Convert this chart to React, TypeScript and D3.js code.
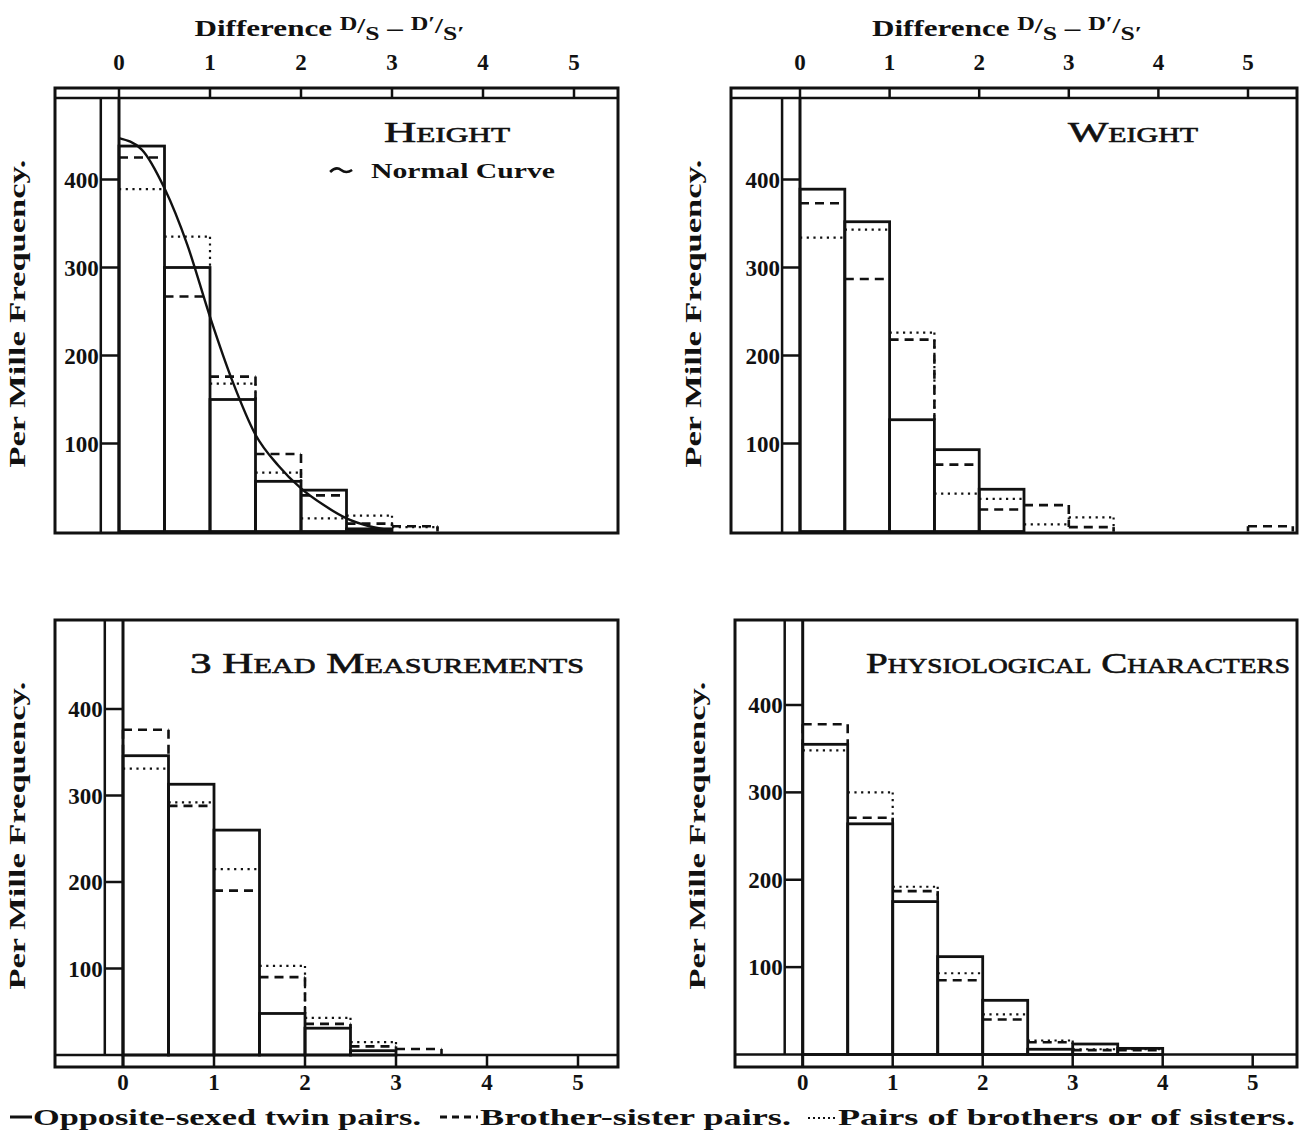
import React from 'react';
import * as d3 from 'd3';

// bins are 0.5 wide, starting at a difference of 0
const binWidth = 0.5;
const xTicks = [0, 1, 2, 3, 4, 5];
const yTicks = [100, 200, 300, 400];

// per mille frequencies
const heightTwins = [438, 300, 150, 57, 47, 3, 0];
const heightBroSis = [425, 267, 176, 88, 41, 9, 6];
const heightSameSex = [389, 335, 168, 67, 15, 18, 5];

const weightTwins = [389, 352, 127, 93, 48, 0, 0, 0, 0, 0, 0];
const weightBroSis = [373, 287, 218, 76, 25, 30, 5, 0, 0, 0, 6];
const weightSameSex = [334, 343, 226, 43, 37, 8, 16, 0, 0, 0, 0];

const headTwins = [346, 313, 260, 48, 31, 5, 0];
const headBroSis = [376, 288, 190, 90, 36, 10, 7];
const headSameSex = [331, 292, 215, 103, 43, 15, 0];

const physTwins = [355, 264, 175, 112, 62, 6, 12, 7];
const physBroSis = [378, 271, 187, 85, 40, 14, 5, 5];
const physSameSex = [348, 300, 192, 93, 46, 16, 6, 6];

// normal curve drawn over the height histogram
const normalX = [0, 0.25, 0.5, 0.75, 1, 1.25, 1.5, 1.75, 2, 2.25, 2.5, 2.75, 3];
const normalY = [447, 434, 390, 326, 244, 170, 110, 75, 49, 30, 15, 6, 1];

const FONT = '"Liberation Serif", "DejaVu Serif", serif';
const INK = '#111';

const panels = [
  {
    key: 'height', title: 'Height', titleX: 447, titleY: 142, titleW: 126,
    twins: heightTwins, broSis: heightBroSis, sameSex: heightSameSex,
    x0: 119, unit: 91, left: 55, right: 618, top: 88, bottom: 533,
    y0: 531.5, y400: 179.5, axis: 'top', normal: true,
  },
  {
    key: 'weight', title: 'Weight', titleX: 1133, titleY: 142, titleW: 130,
    twins: weightTwins, broSis: weightBroSis, sameSex: weightSameSex,
    x0: 800, unit: 89.6, left: 731, right: 1297, top: 88, bottom: 533,
    y0: 531.5, y400: 179.5, axis: 'top', normal: false,
  },
  {
    key: 'head', title: '3 Head Measurements', titleX: 387, titleY: 673, titleW: 394,
    twins: headTwins, broSis: headBroSis, sameSex: headSameSex,
    x0: 123, unit: 91, left: 55, right: 618, top: 620, bottom: 1067,
    y0: 1055, y400: 709, axis: 'bottom', normal: false,
  },
  {
    key: 'phys', title: 'Physiological Characters', titleX: 1078, titleY: 673, titleW: 424,
    twins: physTwins, broSis: physBroSis, sameSex: physSameSex,
    x0: 802.7, unit: 90, left: 735, right: 1297, top: 620, bottom: 1067,
    y0: 1054.5, y400: 705, axis: 'bottom', normal: false,
  },
];

type Panel = typeof panels[number];

// outline of a comparison series: tops of each bin, plus the edges
// that stand clear of the solid bars
function stepSegments(values: number[], solid: number[]) {
  const segs: { x1: number; y1: number; x2: number; y2: number }[] = [];
  values.forEach((v, i) => {
    if (!v) return;
    const a = i * binWidth;
    const b = (i + 1) * binWidth;
    segs.push({ x1: a, y1: v, x2: b, y2: v });
    const coverL = Math.max(solid[i - 1] || 0, solid[i] || 0);
    const coverR = Math.max(solid[i] || 0, solid[i + 1] || 0);
    const prev = values[i - 1] || 0;
    const next = values[i + 1] || 0;
    if (v > coverL && v > prev) segs.push({ x1: a, y1: v, x2: a, y2: Math.max(coverL, prev) });
    if (v > coverR && v > next) segs.push({ x1: b, y1: v, x2: b, y2: Math.max(coverR, next) });
  });
  return segs;
}

function PanelView({ p }: { p: Panel }) {
  const x = d3.scaleLinear().domain([0, 5]).range([p.x0, p.x0 + 5 * p.unit]);
  const y = d3.scaleLinear().domain([0, 400]).range([p.y0, p.y400]);
  const isTop = p.axis === 'top';
  const stripTop = isTop ? p.top : p.y0;
  const stripBottom = isTop ? p.top + 10 : p.bottom;
  const innerTop = isTop ? stripBottom : p.top;
  const innerBottom = isTop ? p.bottom : p.y0;
  const xa = x(-0.2);
  const xz = x(0);

  const dashed = stepSegments(p.broSis, p.twins);
  const dotted = stepSegments(p.sameSex, p.twins);

  const curve = d3.line<number>()
    .x((d) => x(d))
    .y((_, i) => y(normalY[i]))
    .curve(d3.curveMonotoneX);

  const cx = (p.left + p.right) / 2;
  const yLabelX = p.left - 30;
  const yLabelY = (p.top + p.bottom) / 2 + (isTop ? 3 : -8);

  return (
    <g>
      {/* frame */}
      <rect x={p.left} y={p.top} width={p.right - p.left} height={p.bottom - p.top}
        fill="none" stroke={INK} strokeWidth={3} />
      {/* x axis strip */}
      <line x1={p.left} x2={p.right} y1={isTop ? stripBottom : stripTop} y2={isTop ? stripBottom : stripTop}
        stroke={INK} strokeWidth={2.5} />
      {xTicks.map((t) => (
        <line key={'xt' + t} x1={x(t)} x2={x(t)} y1={stripTop} y2={stripBottom} stroke={INK} strokeWidth={2.5} />
      ))}
      {xTicks.map((t) => (
        <text key={'xl' + t} x={x(t)} y={isTop ? p.top - 18 : p.bottom + 23}
          textAnchor="middle" fontFamily={FONT} fontWeight="bold" fontSize={23} fill={INK}>{t}</text>
      ))}
      {/* y axis strip between the two verticals */}
      <line x1={xa} x2={xa} y1={innerTop} y2={innerBottom} stroke={INK} strokeWidth={2.5} />
      <line x1={xz} x2={xz} y1={innerTop} y2={isTop ? innerBottom : p.bottom} stroke={INK} strokeWidth={3} />
      {yTicks.map((t) => (
        <line key={'yt' + t} x1={xa} x2={xz} y1={y(t)} y2={y(t)} stroke={INK} strokeWidth={2.5} />
      ))}
      {yTicks.map((t) => (
        <text key={'yl' + t} x={xa - 2} y={y(t) + 8} textAnchor="end"
          fontFamily={FONT} fontWeight="bold" fontSize={23} fill={INK}>{t}</text>
      ))}
      <text transform={`translate(${yLabelX},${yLabelY}) rotate(-90)`} textAnchor="middle"
        fontFamily={FONT} fontWeight="bold" fontSize={24} fill={INK} textLength={308} lengthAdjust="spacingAndGlyphs">
        Per Mille Frequency.
      </text>

      {/* opposite-sexed twins: solid bars */}
      {p.twins.map((v, i) => v > 0 && (
        <rect key={'s' + i} x={x(i * binWidth)} y={y(v)} width={x((i + 1) * binWidth) - x(i * binWidth)}
          height={y(0) - y(v)} fill="none" stroke={INK} strokeWidth={2.8} />
      ))}
      {dashed.map((s, i) => (
        <line key={'d' + i} x1={x(s.x1)} x2={x(s.x2)} y1={y(s.y1)} y2={y(s.y2)}
          stroke={INK} strokeWidth={2.6} strokeDasharray="9,6" />
      ))}
      {dotted.map((s, i) => (
        <line key={'o' + i} x1={x(s.x1)} x2={x(s.x2)} y1={y(s.y1)} y2={y(s.y2)}
          stroke={INK} strokeWidth={2.2} strokeDasharray="2.2,4.5" />
      ))}
      {p.normal && (
        <path d={curve(normalX) || ''} fill="none" stroke={INK} strokeWidth={2.4} />
      )}

      {/* title */}
      <text x={p.titleX} y={p.titleY} textAnchor="middle" fontFamily={FONT} fontSize={30}
        fontVariant="small-caps" fill={INK} stroke={INK} strokeWidth={0.6}
        textLength={p.titleW} lengthAdjust="spacingAndGlyphs">
        {p.title}
      </text>
      {p.normal && (
        <g>
          <path d={`M${x(2.32)},${p.top + 84} q6,-6 11,-2 t11,0`} fill="none" stroke={INK} strokeWidth={2.6} />
          <text x={x(2.77)} y={p.top + 90} fontFamily={FONT} fontWeight="bold" fontSize={21} fill={INK}
            textLength={184} lengthAdjust="spacingAndGlyphs">Normal Curve</text>
        </g>
      )}
      {isTop && (
        <text x={cx - 7} y={36} textAnchor="middle" fontFamily={FONT} fontWeight="bold" fontSize={23} fill={INK}
          textLength={270} lengthAdjust="spacingAndGlyphs">
          Difference <tspan dy={-6} fontSize={18}>D</tspan>
          <tspan dy={3} fontSize={21}>/</tspan>
          <tspan dy={7} fontSize={19}>S</tspan>
          <tspan dy={-4}> – </tspan>
          <tspan dy={-6} fontSize={18}>D′</tspan>
          <tspan dy={3} fontSize={21}>/</tspan>
          <tspan dy={7} fontSize={19}>S′</tspan>
        </text>
      )}
    </g>
  );
}

const legendY = 1117;

export default function App() {
  return (
    <svg width={1299} height={1139} style={{ position: 'absolute', left: 0, top: 0, background: '#fff' }}>
      <rect x={0} y={0} width={1299} height={1139} fill="#fff" />
      {panels.map((p) => <PanelView key={p.key} p={p} />)}

      {/* legend */}
      <line x1={10} x2={32} y1={legendY} y2={legendY} stroke={INK} strokeWidth={3} />
      <text x={33} y={legendY + 8} fontFamily={FONT} fontWeight="bold" fontSize={24} fill={INK}
        textLength={388} lengthAdjust="spacingAndGlyphs">Opposite-sexed twin pairs.</text>
      <line x1={440} x2={478} y1={legendY} y2={legendY} stroke={INK} strokeWidth={3} strokeDasharray="7,5" />
      <text x={480} y={legendY + 8} fontFamily={FONT} fontWeight="bold" fontSize={24} fill={INK}
        textLength={311} lengthAdjust="spacingAndGlyphs">Brother-sister pairs.</text>
      <line x1={808} x2={836} y1={legendY + 1} y2={legendY + 1} stroke={INK} strokeWidth={2} strokeDasharray="2,3" />
      <text x={838} y={legendY + 8} fontFamily={FONT} fontWeight="bold" fontSize={24} fill={INK}
        textLength={457} lengthAdjust="spacingAndGlyphs">Pairs of brothers or of sisters.</text>
    </svg>
  );
}
